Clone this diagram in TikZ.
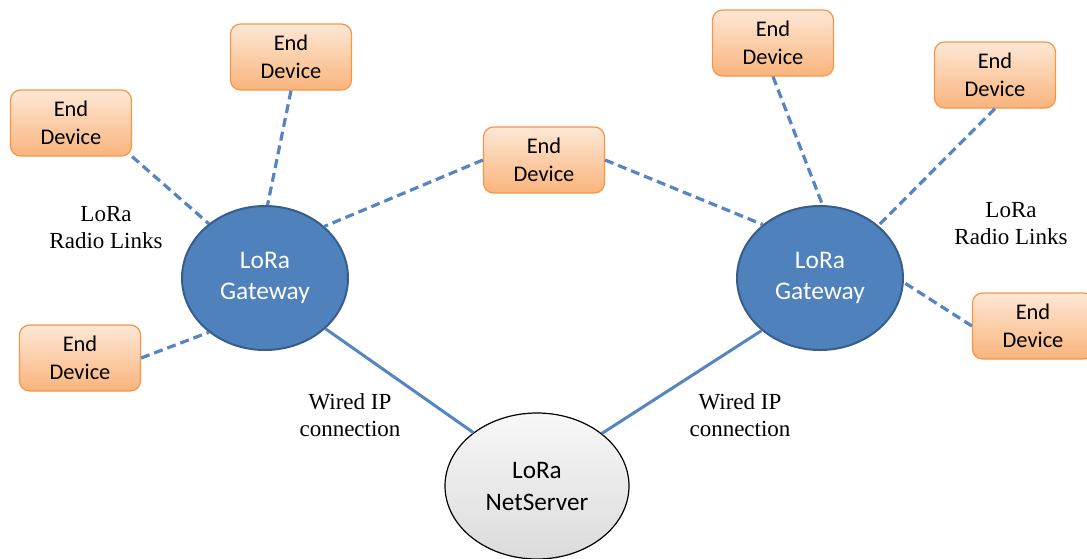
\documentclass[tikz,border=0pt]{standalone}
\usepackage{fontspec}
\setmainfont{Liberation Serif}
\newfontfamily\calibri{Carlito}
\usetikzlibrary{shapes.geometric}
\definecolor{devtop}{HTML}{FDE8D6}
\definecolor{devbottom}{HTML}{F9B47C}
\definecolor{devline}{HTML}{F79646}
\definecolor{gwfill}{HTML}{4F81BD}
\definecolor{gwline}{HTML}{385D8A}
\definecolor{linkblue}{HTML}{5585C3}
\tikzset{
  device/.style={draw=devline, line width=0.6pt, rounded corners=5pt,
    top color=devtop, bottom color=devbottom, minimum width=60.5pt,
    minimum height=33pt, inner sep=0pt, align=center,
    font=\calibri\fontsize{11.2}{14}\selectfont},
  gateway/.style={ellipse, draw=gwline, line width=1pt, fill=gwfill,
    minimum width=83pt, minimum height=72pt, inner sep=0pt, text=white,
    align=center, font=\calibri\fontsize{12.7}{15.5}\selectfont},
  netserver/.style={ellipse, draw=black, line width=0.6pt, top color=gray!6,
    bottom color=gray!28, minimum width=92pt, minimum height=73pt,
    inner sep=0pt, align=center, font=\calibri\fontsize{12.6}{16}\selectfont},
  radiolink/.style={draw=linkblue, line width=1.6pt, dash pattern=on 4.5pt off 2.5pt},
  wiredlink/.style={draw=linkblue, line width=1.5pt},
  note/.style={align=center, font=\fontsize{11.5}{13.5}\selectfont}
}
\begin{document}
\begin{tikzpicture}[x=0.5pt, y=-0.5pt]
  \useasboundingbox (0,0) rectangle (1087,558);
  \clip (0,0) rectangle (1087,558); % device on the right is cut off

  \node[gateway] (gwL) at (265,278) {LoRa\\Gateway};
  \node[gateway] (gwR) at (820,278) {LoRa\\Gateway};
  \node[netserver] (srv) at (537,486) {LoRa\\NetServer};

  \node[device] (d1) at (71,123) {End\\Device};
  \node[device] (d2) at (291,57) {End\\Device};
  \node[device] (d3) at (80,358) {End\\Device};
  \node[device] (d4) at (544,160) {End\\Device};
  \node[device] (d5) at (773,43) {End\\Device};
  \node[device] (d6) at (995,75) {End\\Device};
  \node[device] (d7) at (1033,326) {End\\Device};

  \node[note] (radioL) at (106,228) {LoRa\\Radio Links};
  \node[note] (radioR) at (1011,224) {LoRa\\Radio Links};
  \node[note] (wiredL) at (350,415) {Wired IP\\connection};
  \node[note] (wiredR) at (740,415) {Wired IP\\connection};

  \draw[radiolink] (d1.south east) -- (gwL.136);
  \draw[radiolink] (d2.south) -- (gwL.88);
  \draw[radiolink] (d3.east) -- (gwL.224);
  \draw[radiolink] (d4.west) -- (gwL.41);
  \draw[radiolink] (d4.east) -- (gwR.137);
  \draw[radiolink] (d5.south) -- (gwR.88);
  \draw[radiolink] (d6.south) -- (gwR.42);
  \draw[radiolink] (d7.west) -- (gwR.357);

  \draw[wiredlink] (gwL.320) -- (srv.140);
  \draw[wiredlink] (gwR.222) -- (srv.39);
\end{tikzpicture}
\end{document}
